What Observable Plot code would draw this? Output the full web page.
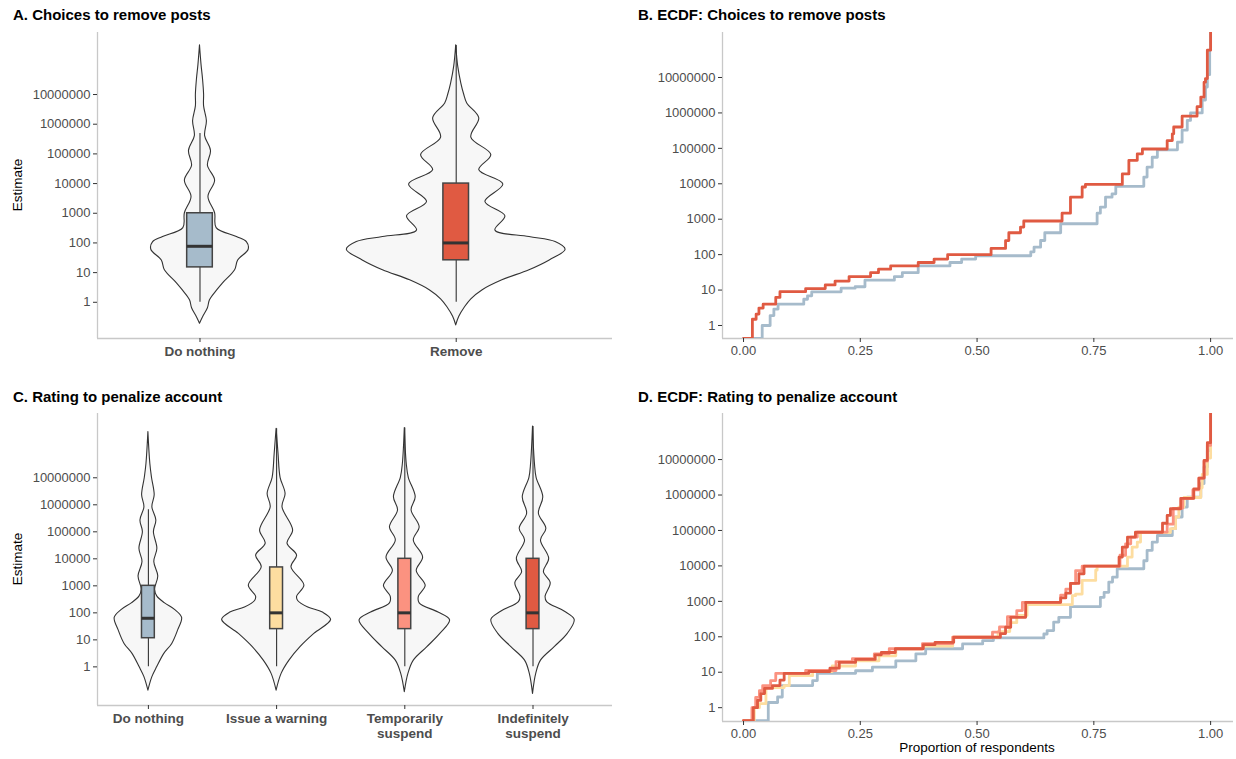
<!DOCTYPE html>
<html>
<head>
<meta charset="utf-8">
<script src="https://cdn.jsdelivr.net/npm/d3@7"></script>
<script src="https://cdn.jsdelivr.net/npm/@observablehq/plot@0.6"></script>
<style>
  body { margin: 0; background: #fff; font-family: "Liberation Sans", Arial, sans-serif; }
  #root { position: relative; width: 1236px; height: 759px; overflow: hidden; background: #fff; }
  .title { position: absolute; font-weight: bold; font-size: 15px; line-height: 15px; color: #000; white-space: nowrap; }
  .ytitle { position: absolute; width: 120px; text-align: center; font-size: 13.5px; line-height: 16px; color: #000; transform: rotate(-90deg); }
  .xtitle { position: absolute; width: 300px; text-align: center; font-size: 13.5px; line-height: 16px; color: #000; }
</style>
</head>
<body>
<div id="root"></div>
<script>
// ---------- categories ----------
const postChoices = ["Do nothing", "Remove"];
const penaltyChoices = ["Do nothing", "Issue a warning", "Temporarily suspend", "Indefinitely suspend"];

// ---------- tick values ----------
const estimateTicks = [1, 10, 100, 1000, 10000, 100000, 1000000, 10000000];
const proportionTicks = [0, 0.25, 0.5, 0.75, 1];

// ---------- violin density profiles: [log10(estimate), half-width in category units] ----------
const violinPostNothing = [
  [-0.72, 0], [-0.5, 0.012], [-0.2, 0.031], [0.07, 0.039], [0.4, 0.067], [0.64, 0.09],
  [1.08, 0.137], [1.41, 0.149], [1.77, 0.19], [2.03, 0.183], [2.2, 0.144], [2.5, 0.065],
  [3.0, 0.059], [3.55, 0.033], [4.1, 0.059], [4.6, 0.031], [5.1, 0.043], [5.6, 0.02],
  [6.1, 0.027], [6.6, 0.016], [7.0, 0.016], [7.5, 0.012], [8.0, 0.006], [8.66, 0]
];
const violinPostRemove = [
  [-0.78, 0], [-0.49, 0.012], [-0.16, 0.035], [0.1, 0.059], [0.4, 0.102], [0.74, 0.18],
  [1.08, 0.286], [1.41, 0.365], [1.77, 0.427], [2.03, 0.388], [2.2, 0.286], [2.42, 0.153],
  [2.9, 0.192], [3.38, 0.114], [3.97, 0.184], [4.45, 0.09], [4.96, 0.137], [5.55, 0.059],
  [6.2, 0.09], [6.7, 0.043], [7.0, 0.031], [7.37, 0.02], [7.93, 0.008], [8.66, 0]
];
const violinPenaltyNothing = [
  [-0.88, 0], [-0.38, 0.031], [0, 0.07], [0.48, 0.124], [0.85, 0.186], [1.35, 0.232],
  [1.81, 0.263], [2.1, 0.21], [2.35, 0.13], [2.6, 0.07], [2.85, 0.052], [3.35, 0.077],
  [3.88, 0.046], [4.37, 0.07], [4.99, 0.043], [5.42, 0.062], [5.91, 0.031], [6.35, 0.049],
  [7.0, 0.028], [7.52, 0.015], [8.69, 0]
];
const violinPenaltyWarning = [
  [-0.88, 0], [-0.26, 0.039], [0.23, 0.1], [0.73, 0.186], [1.22, 0.294], [1.74, 0.425],
  [2.01, 0.361], [2.2, 0.247], [2.44, 0.168], [2.6, 0.16], [3.01, 0.217], [3.69, 0.116],
  [4.12, 0.16], [4.56, 0.085], [5.05, 0.129], [5.91, 0.046], [6.4, 0.07], [7.0, 0.031],
  [7.89, 0.015], [8.81, 0]
];
const violinPenaltyTemporary = [
  [-0.94, 0], [-0.26, 0.028], [0.23, 0.07], [0.73, 0.176], [1.22, 0.277], [1.72, 0.353],
  [2.01, 0.263], [2.35, 0.116], [2.6, 0.11], [3.0, 0.163], [3.55, 0.093], [4.05, 0.143],
  [4.68, 0.07], [5.17, 0.116], [5.79, 0.053], [6.28, 0.085], [7.0, 0.031], [7.52, 0.015],
  [8.84, 0]
];
const violinPenaltyIndefinite = [
  [-1.0, 0], [-0.26, 0.025], [0.23, 0.062], [0.73, 0.169], [1.22, 0.271], [1.74, 0.325],
  [2.05, 0.246], [2.4, 0.11], [2.6, 0.098], [3.1, 0.138], [3.51, 0.085], [4.0, 0.126],
  [4.68, 0.062], [5.11, 0.104], [5.67, 0.046], [6.28, 0.08], [7.0, 0.028], [7.52, 0.015],
  [8.9, 0]
];

// ---------- box plot statistics: [lower whisker, Q1, median, Q3, upper whisker] ----------
const boxPost = [
  [1, 15, 77, 1000, 490000],
  [1, 26, 100, 10000, 450000000]
];
const boxPenalty = [
  [1, 11.5, 63, 1000, 650000],
  [1, 25, 100, 4800, 650000000],
  [1, 25, 100, 10000, 690000000],
  [1, 25, 100, 10000, 790000000]
];

// ---------- ECDF steps: [proportion of respondents, estimate] ----------
const ecdfPostNothing = [
  [0, 0.43], [0.04, 1.0], [0.057, 1.9], [0.065, 2.9], [0.074, 4.0], [0.129, 5.5], [0.137, 6.9],
  [0.146, 8.9], [0.209, 11.3], [0.239, 12.4], [0.26, 19], [0.323, 24], [0.34, 31], [0.374, 48],
  [0.442, 60], [0.467, 75], [0.497, 93], [0.615, 120], [0.622, 162], [0.636, 251], [0.645, 415],
  [0.679, 745], [0.757, 1480], [0.764, 2200], [0.775, 4200], [0.789, 5200], [0.797, 8500],
  [0.857, 15500], [0.864, 29500], [0.875, 56000], [0.886, 91000], [0.929, 149000], [0.939, 325000],
  [0.95, 615000], [0.957, 1000000], [0.982, 2300000], [0.989, 5400000], [0.993, 12000000],
  [0.998, 60000000], [1, 1e9]
];
const ecdfPostRemove = [
  [0, 0.43], [0.019, 1.5], [0.027, 2.1], [0.033, 3.1], [0.042, 4.0], [0.069, 6.2], [0.078, 9.0],
  [0.133, 11], [0.175, 14], [0.196, 18], [0.226, 24], [0.272, 31], [0.289, 39], [0.315, 48],
  [0.374, 60], [0.408, 75], [0.437, 100], [0.53, 150], [0.561, 250], [0.568, 415], [0.593, 600],
  [0.6, 890], [0.682, 1480], [0.7, 4200], [0.725, 8100], [0.732, 9600], [0.811, 19000],
  [0.825, 46000], [0.843, 70000], [0.854, 96000], [0.907, 166000], [0.918, 257000], [0.921, 400000],
  [0.939, 810000], [0.971, 1500000], [0.979, 2800000], [0.986, 7400000], [0.989, 9300000],
  [0.993, 59000000], [1, 1e9]
];
const ecdfPenaltyNothing = [
  [0, 0.43], [0.053, 1.4], [0.073, 2.0], [0.083, 4.2], [0.148, 5.8], [0.158, 9.3], [0.24, 11],
  [0.276, 14], [0.326, 21], [0.369, 33], [0.39, 46], [0.469, 63], [0.512, 78], [0.535, 93],
  [0.643, 120], [0.65, 150], [0.664, 260], [0.675, 355], [0.7, 710], [0.764, 1300], [0.772, 1800],
  [0.782, 3500], [0.79, 4800], [0.8, 8300], [0.857, 14000], [0.864, 27500], [0.875, 47000],
  [0.886, 72000], [0.918, 112000], [0.925, 240000], [0.939, 457000], [0.95, 870000],
  [0.979, 2100000], [0.986, 6200000], [0.993, 18000000], [1, 1e9]
];
const ecdfPenaltyWarning = [
  [0, 0.43], [0.023, 1.0], [0.034, 1.3], [0.048, 3.7], [0.087, 4.2], [0.098, 8], [0.148, 10.5],
  [0.19, 15], [0.24, 21], [0.29, 29], [0.326, 46], [0.383, 55], [0.448, 97], [0.545, 140],
  [0.57, 250], [0.585, 400], [0.607, 810], [0.704, 1450], [0.711, 1600], [0.725, 3900],
  [0.754, 7600], [0.757, 9800], [0.822, 17800], [0.832, 34000], [0.843, 47000], [0.85, 87000],
  [0.914, 112000], [0.925, 240000], [0.932, 457000], [0.943, 850000], [0.979, 1600000],
  [0.982, 3800000], [0.993, 11000000], [1, 1e9]
];
const ecdfPenaltyTemporary = [
  [0, 0.43], [0.018, 1.0], [0.026, 1.95], [0.034, 3.0], [0.041, 4.2], [0.058, 5.8], [0.069, 9.3],
  [0.133, 11.2], [0.198, 20], [0.233, 24], [0.28, 33], [0.312, 46], [0.383, 64], [0.448, 97],
  [0.533, 135], [0.548, 190], [0.565, 370], [0.585, 550], [0.597, 940], [0.679, 1500],
  [0.69, 2200], [0.7, 3200], [0.711, 7400], [0.725, 9800], [0.806, 20000], [0.818, 42000],
  [0.829, 65000], [0.843, 90000], [0.907, 150000], [0.92, 420000], [0.94, 800000],
  [0.962, 1400000], [0.975, 3000000], [0.986, 9000000], [0.993, 25000000], [1, 1e9]
];
const ecdfPenaltyIndefinite = [
  [0, 0.43], [0.021, 1.0], [0.03, 1.6], [0.037, 2.5], [0.045, 3.5], [0.062, 4.2], [0.078, 6],
  [0.087, 9.3], [0.14, 10.5], [0.185, 13], [0.205, 19], [0.24, 23], [0.282, 31], [0.295, 36],
  [0.325, 46], [0.385, 60], [0.41, 70], [0.45, 97], [0.55, 123], [0.561, 186], [0.572, 355],
  [0.604, 940], [0.679, 1250], [0.69, 1700], [0.7, 3200], [0.718, 6000], [0.729, 9800],
  [0.804, 17800], [0.811, 34000], [0.822, 65000], [0.839, 89000], [0.897, 160000],
  [0.907, 265000], [0.914, 410000], [0.936, 800000], [0.964, 1500000], [0.975, 3000000],
  [0.986, 9500000], [0.993, 30000000], [1, 1e9]
];

// ---------- colours ----------
const postColors = ["#a6bbcb", "#e05a42"];
const penaltyColors = ["#a6bbcb", "#fddda0", "#fb9280", "#e05a42"];

// ---------- shared styling ----------
const FONT = "'Liberation Sans', Arial, Helvetica, sans-serif";
const AXIS_LINE = "#c8c8c8";
const root = document.getElementById("root");

function place(node, left, top) {
  const wrap = document.createElement("div");
  wrap.style.cssText = `position:absolute;left:${left}px;top:${top}px;`;
  wrap.appendChild(node);
  root.appendChild(wrap);
}
function addText(cls, text, css) {
  const el = document.createElement("div");
  el.className = cls;
  el.textContent = text;
  el.style.cssText += css;
  root.appendChild(el);
}

function yAxis() {
  return Plot.axisY({
    ticks: estimateTicks, tickFormat: d3.format("d"), tickSize: 4, tickPadding: 3,
    stroke: "#333", fill: "#4d4d4d", fontSize: 13, label: null
  });
}

// Violins with boxplots on a log estimate scale
function violinPanel({names, profiles, boxes, colors, xDomain, yDomain, width, height, margin}) {
  const shape = [];
  profiles.forEach((prof, i) => prof.forEach(([l, w]) => shape.push({cat: i, est: 10 ** l, w})));
  const stats = boxes.map((b, i) => ({i, lo: b[0], q1: b[1], med: b[2], q3: b[3], hi: b[4]}));
  return Plot.plot({
    width, height, ...margin,
    style: {fontFamily: FONT, fontSize: "13px", background: "transparent", overflow: "visible"},
    x: {domain: xDomain, axis: null},
    y: {type: "log", domain: yDomain, axis: null},
    color: {type: "identity"},
    marks: [
      Plot.ruleX([xDomain[0]], {stroke: AXIS_LINE, strokeWidth: 1.3}),
      Plot.ruleY([yDomain[0]], {stroke: AXIS_LINE, strokeWidth: 1.3}),
      Plot.areaX(shape, {
        y: "est", x1: d => d.cat - d.w, x2: d => d.cat + d.w, z: "cat",
        fill: "#f7f7f7", stroke: "#333", strokeWidth: 1.1, curve: "catmull-rom"
      }),
      Plot.ruleX(stats, {x: "i", y1: "lo", y2: "hi", stroke: "#333", strokeWidth: 1.1}),
      Plot.rect(stats, {
        x1: d => d.i - 0.05, x2: d => d.i + 0.05, y1: "q1", y2: "q3",
        fill: d => colors[d.i], stroke: "#444", strokeWidth: 1.5
      }),
      Plot.ruleY(stats, {y: "med", x1: d => d.i - 0.05, x2: d => d.i + 0.05, stroke: "#333", strokeWidth: 3}),
      yAxis(),
      Plot.axisX({
        ticks: names.map((_, i) => i),
        tickFormat: i => names[i].replace(/ suspend$/, "\nsuspend"),
        tickSize: 4, tickPadding: 3, stroke: "#333", fill: "#4d4d4d",
        fontSize: 13.5, fontWeight: "bold", lineHeight: 1.1, label: null
      })
    ]
  });
}

// Empirical cumulative distributions drawn as steps
function ecdfPanel({series, colors, yDomain, width, height, margin}) {
  const rows = [];
  series.forEach((s, k) => s.forEach(([p, v]) => rows.push({k, p, v})));
  const xDomain = [-0.045, 1.049];
  return Plot.plot({
    width, height, ...margin,
    style: {fontFamily: FONT, fontSize: "13px", background: "transparent", overflow: "visible"},
    x: {domain: xDomain, axis: null},
    y: {type: "log", domain: yDomain, axis: null},
    color: {type: "identity"},
    marks: [
      Plot.ruleX([xDomain[0]], {stroke: AXIS_LINE, strokeWidth: 1.3}),
      Plot.ruleY([yDomain[0]], {stroke: AXIS_LINE, strokeWidth: 1.3}),
      Plot.line(rows, {
        x: "p", y: "v", z: "k", stroke: d => colors[d.k],
        strokeWidth: 2.8, curve: "step-after", clip: true
      }),
      yAxis(),
      Plot.axisX({
        ticks: proportionTicks, tickFormat: d3.format(".2f"),
        tickSize: 4, tickPadding: 3, stroke: "#333", fill: "#4d4d4d", fontSize: 13, label: null
      })
    ]
  });
}

// A. violins for post removal choices
place(violinPanel({
  names: postChoices,
  profiles: [violinPostNothing, violinPostRemove],
  boxes: boxPost, colors: postColors,
  xDomain: [-0.4, 1.61], yDomain: [10 ** -1.22, 10 ** 9.09],
  width: 620, height: 370,
  margin: {marginLeft: 97, marginRight: 8, marginTop: 32, marginBottom: 32}
}), 0, 0);

// B. ECDF for post removal choices
place(ecdfPanel({
  series: [ecdfPostNothing, ecdfPostRemove], colors: postColors,
  yDomain: [10 ** -0.367, 10 ** 8.27],
  width: 616, height: 370,
  margin: {marginLeft: 102, marginRight: 3, marginTop: 32, marginBottom: 32}
}), 620, 0);

// C. violins for account penalty ratings
place(violinPanel({
  names: penaltyChoices,
  profiles: [violinPenaltyNothing, violinPenaltyWarning, violinPenaltyTemporary, violinPenaltyIndefinite],
  boxes: boxPenalty, colors: penaltyColors,
  xDomain: [-0.397, 3.62], yDomain: [10 ** -1.43, 10 ** 9.38],
  width: 620, height: 379,
  margin: {marginLeft: 97, marginRight: 8, marginTop: 33, marginBottom: 54}
}), 0, 380);

// D. ECDF for account penalty ratings
place(ecdfPanel({
  series: [ecdfPenaltyNothing, ecdfPenaltyWarning, ecdfPenaltyTemporary, ecdfPenaltyIndefinite],
  colors: penaltyColors,
  yDomain: [10 ** -0.39, 10 ** 8.3],
  width: 616, height: 379,
  margin: {marginLeft: 102, marginRight: 3, marginTop: 33, marginBottom: 38}
}), 620, 380);

// Panel titles and axis titles
addText("title", "A. Choices to remove posts", "left:13px;top:7px;");
addText("title", "B. ECDF: Choices to remove posts", "left:638px;top:7px;");
addText("title", "C. Rating to penalize account", "left:13px;top:389px;");
addText("title", "D. ECDF: Rating to penalize account", "left:638px;top:389px;");
addText("ytitle", "Estimate", "left:-42px;top:177px;");
addText("ytitle", "Estimate", "left:-42px;top:551px;");
addText("xtitle", "Proportion of respondents", "left:827px;top:740px;");
</script>
</body>
</html>
